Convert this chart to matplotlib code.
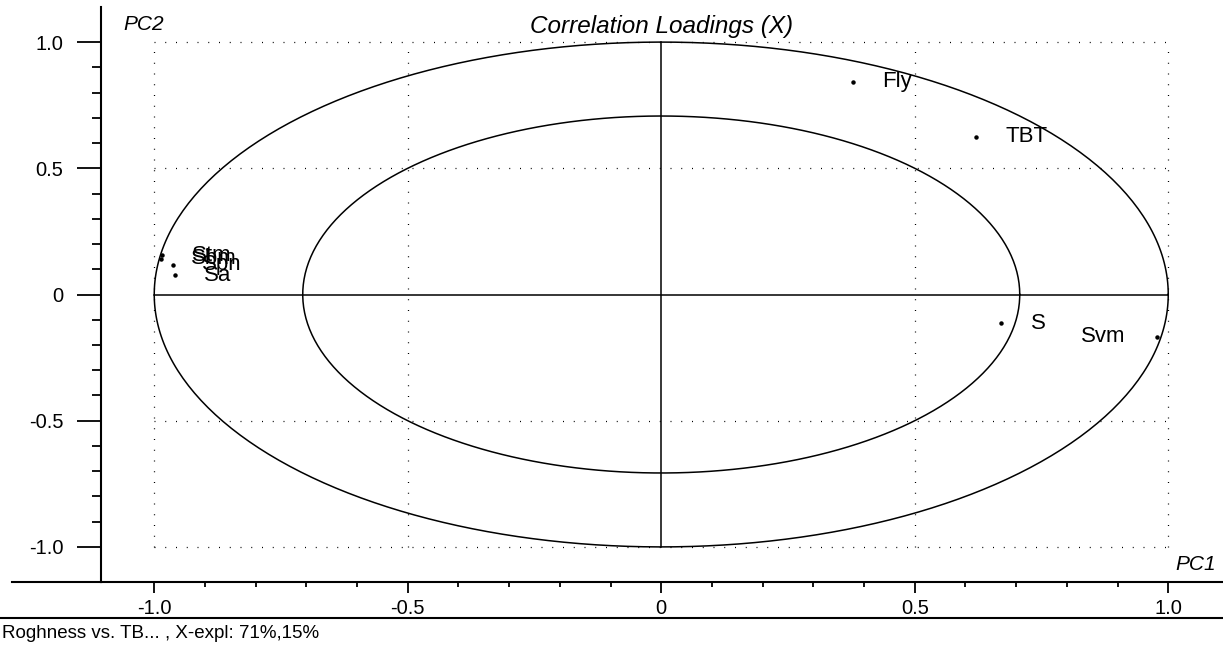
import numpy as np
import matplotlib
matplotlib.use("Agg")
import matplotlib.pyplot as plt
from matplotlib.lines import Line2D

plt.rcParams['font.family'] = ['Liberation Sans', 'DejaVu Sans']

# correlation loadings on PC1 / PC2
names = ['Fly', 'TBT', 'S', 'Svm', 'Stm', 'Sbm', 'Spn', 'Sa']
pc1 = [0.379, 0.621, 0.671, 0.978, -0.984, -0.986, -0.963, -0.959]
pc2 = [0.842, 0.624, -0.113, -0.168, 0.155, 0.142, 0.117, 0.077]
label_side = ['r', 'r', 'r', 'l', 'r', 'r', 'r', 'r']

# circles for 100% and 50% explained variance
radii = [1.0, np.sqrt(0.5)]
grid_vals = [-1.0, -0.5, 0.5, 1.0]
major_ticks = [-1.0, -0.5, 0, 0.5, 1.0]
major_labels = ['-1.0', '-0.5', '0', '0.5', '1.0']
minor_ticks = np.round(np.arange(-1.0, 1.01, 0.1), 2)

fig = plt.figure(figsize=(12.23, 6.5), dpi=100)
ax = fig.add_axes([101 / 1223, 1 - 582 / 650, 1 - 101 / 1223, 575 / 650])
ax.set_xlim(-1.105, 1.108)
ax.set_ylim(-1.139, 1.139)

# dotted grid inside the unit box
for v in grid_vals:
    ax.plot([v, v], [-1, 1], color='black', lw=0.9, ls=(0, (0.8, 7.8)))
    ax.plot([-1, 1], [v, v], color='black', lw=0.9, ls=(0, (0.8, 7.8)))

# axes through origin
ax.plot([-1, 1], [0, 0], color='black', lw=1.1)
ax.plot([0, 0], [-1, 1], color='black', lw=1.1)

t = np.linspace(0, 2 * np.pi, 400)
for r in radii:
    ax.plot(r * np.cos(t), r * np.sin(t), color='black', lw=1.1)

ax.plot(pc1, pc2, ls='none', marker='o', ms=2.2, color='black')
for n, x, y, side in zip(names, pc1, pc2, label_side):
    if side == 'r':
        ax.annotate(n, (x, y), xytext=(21, 0), textcoords='offset points',
                    ha='left', va='center', fontsize=16)
    else:
        ax.annotate(n, (x, y), xytext=(-23, 0), textcoords='offset points',
                    ha='right', va='center', fontsize=16)

for s in ['top', 'right']:
    ax.spines[s].set_visible(False)
ax.spines['left'].set_linewidth(1.5)
ax.spines['bottom'].set_linewidth(1.5)

ax.set_xticks(major_ticks)
ax.set_xticklabels(major_labels)
ax.set_yticks(major_ticks)
ax.set_yticklabels(major_labels)
ax.set_xticks(minor_ticks, minor=True)
ax.set_yticks(minor_ticks, minor=True)
ax.tick_params(axis='y', which='major', length=17, width=1.3, pad=10, labelsize=14.5)
ax.tick_params(axis='y', which='minor', length=6.5, width=1.3)
ax.tick_params(axis='x', which='major', length=8, width=1.3, pad=4, labelsize=14.5)
ax.tick_params(axis='x', which='minor', length=3.6, width=1.3)

ax.text(0, 1.06, 'Correlation Loadings (X)', ha='center', va='center',
        fontsize=17.5, style='italic')
ax.text(-1.06, 1.07, 'PC2', ha='left', va='center', fontsize=15, style='italic')
ax.text(1.095, -1.07, 'PC1', ha='right', va='center', fontsize=15, style='italic')

# bottom rule extends left of the y axis, plus footer separator
fig.add_artist(Line2D([12 / 1223, 101 / 1223], [1 - 582 / 650] * 2,
                      color='black', lw=1.5))
fig.add_artist(Line2D([0, 1], [1 - 618 / 650] * 2, color='black', lw=1.5))
fig.text(2 / 1223, 1 - 634 / 650, 'Roghness vs. TB... , X-expl: 71%,15%',
         ha='left', va='center', fontsize=13.5)

fig.savefig('out.png', dpi=100)
